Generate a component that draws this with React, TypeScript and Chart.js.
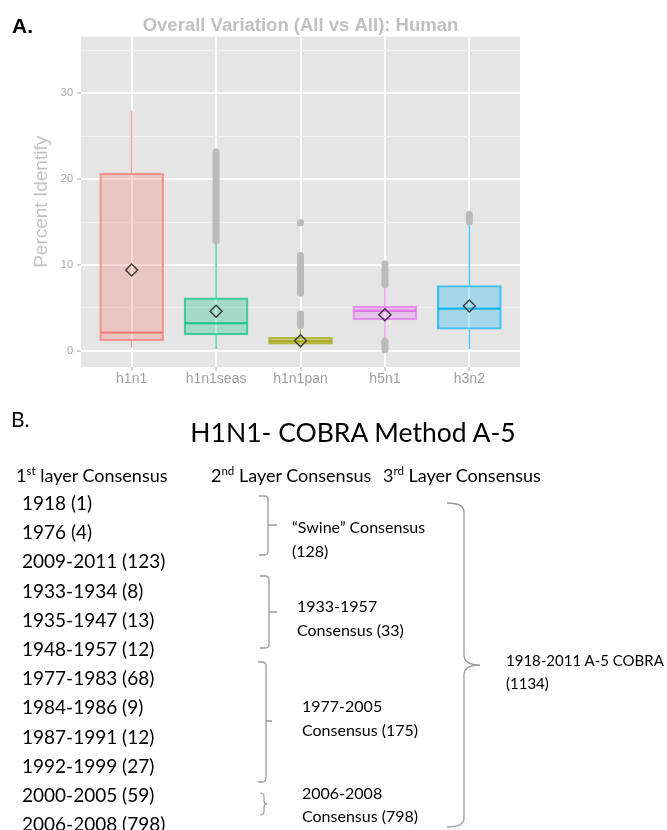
import React, { useEffect, useRef } from "react";
import { Chart, registerables } from "chart.js";

Chart.register(...registerables);

// ---------- Panel A: box plot data (Percent Identify) ----------
const categories = ["h1n1", "h1n1seas", "h1n1pan", "h5n1", "h3n2"];
const whiskerLow = [0.35, 0.2, 0.3, 1.2, 0.2];
const q1 = [1.15, 1.85, 0.75, 3.6, 2.5];
const medians = [2.1, 3.2, 1.1, 4.65, 4.9];
const q3 = [20.7, 6.15, 1.55, 5.2, 7.6];
const whiskerHigh = [28.0, 12.6, 2.6, 7.5, 14.9];
const means = [9.4, 4.6, 1.15, 4.2, 5.2];
// outliers (dense runs read as streaks): category index, lowest value, highest value
const outlierGroup = [1, 2, 2, 2, 3, 3, 3, 4];
const outlierLow = [12.8, 2.9, 6.7, 14.9, 7.7, 10.1, 0.1, 15.0];
const outlierHigh = [23.2, 4.3, 11.1, 14.9, 9.5, 10.1, 1.1, 15.9];
const yMajorTicks = [0, 10, 20, 30];
const hueColors = ["248,118,109", "0,191,125", "163,165,0", "231,107,243", "0,176,246"];

// ---------- Panel B: consensus layers ----------
const firstLayer = [
  "1918 (1)", "1976 (4)", "2009-2011 (123)", "1933-1934 (8)", "1935-1947 (13)", "1948-1957 (12)",
  "1977-1983 (68)", "1984-1986 (9)", "1987-1991 (12)", "1992-1999 (27)", "2000-2005 (59)", "2006-2008 (798)",
];
const secondLayer = [
  ["\u201CSwine\u201D Consensus", "(128)"],
  ["1933-1957", "Consensus (33)"],
  ["1977-2005", "Consensus (175)"],
  ["2006-2008", "Consensus (798)"],
];
const thirdLayer = ["1918-2011 A-5 COBRA", "(1134)"];

const SANS = "'Liberation Sans', Arial, sans-serif";
const LATO = "Lato, 'Open Sans', sans-serif";

const panelBg = {
  id: "panelBg",
  beforeDraw(chart: any) {
    const { ctx, chartArea: a } = chart;
    ctx.save();
    ctx.fillStyle = "#E5E5E5";
    ctx.fillRect(a.left, a.top, a.right - a.left, a.bottom - a.top);
    ctx.restore();
  },
};

const boxParts = {
  id: "boxParts",
  beforeDatasetsDraw(chart: any) {
    const { ctx, scales } = chart;
    const x = scales.x, y = scales.y;
    ctx.save();
    ctx.lineWidth = 1.4;
    categories.forEach((_, i) => {
      const px = x.getPixelForValue(i);
      ctx.strokeStyle = `rgba(${hueColors[i]},0.75)`;
      ctx.beginPath();
      ctx.moveTo(px, y.getPixelForValue(whiskerLow[i]));
      ctx.lineTo(px, y.getPixelForValue(q1[i]));
      ctx.moveTo(px, y.getPixelForValue(q3[i]));
      ctx.lineTo(px, y.getPixelForValue(whiskerHigh[i]));
      ctx.stroke();
    });
    ctx.restore();
  },
  afterDatasetDraw(chart: any, args: any) {
    if (args.index !== 0) return;
    const { ctx } = chart;
    const y = chart.scales.y;
    ctx.save();
    ctx.lineWidth = 2.2;
    args.meta.data.forEach((el: any, i: number) => {
      const { x: cx, width } = el.getProps(["x", "width"], true);
      const py = y.getPixelForValue(medians[i]);
      ctx.strokeStyle = `rgba(${hueColors[i]},0.9)`;
      ctx.beginPath();
      ctx.moveTo(cx - width / 2 + 0.75, py);
      ctx.lineTo(cx + width / 2 - 0.75, py);
      ctx.stroke();
    });
    ctx.restore();
  },
};

function Brace({ x, top, bottom, mid, hook, tip }: any) {
  const r = 4;
  const d = `M ${x - hook} ${top} L ${x - r} ${top} Q ${x} ${top} ${x} ${top + r} L ${x} ${bottom - r} Q ${x} ${bottom} ${x - r} ${bottom} L ${x - hook} ${bottom} M ${x} ${mid} L ${x + tip} ${mid}`;
  return <path d={d} fill="none" stroke="#9A9A9A" strokeWidth={1.3} />;
}

export default function App() {
  const canvasRef = useRef<HTMLCanvasElement>(null);

  useEffect(() => {
    const canvas = canvasRef.current!;
    const outlierSets = outlierGroup.map((g, k) => ({
      type: "line" as const,
      data: [
        { x: g, y: outlierLow[k] },
        { x: g, y: outlierHigh[k] },
      ],
      borderColor: "#BBBBBB",
      borderWidth: 7,
      pointRadius: 3.5,
      pointBorderWidth: 0,
      pointBackgroundColor: "#BBBBBB",
      order: 2,
    }));
    const chart = new Chart(canvas, {
      type: "bar",
      data: {
        datasets: [
          {
            type: "bar",
            data: categories.map((_, i) => ({ x: i, y: [q1[i], q3[i]] })) as any,
            backgroundColor: hueColors.map((c) => `rgba(${c},0.28)`),
            borderColor: hueColors.map((c) => `rgba(${c},0.7)`),
            borderWidth: 1.5,
            borderSkipped: false,
            barThickness: 64,
            grouped: false,
            order: 3,
          } as any,
          ...(outlierSets as any),
          {
            type: "scatter",
            data: categories.map((_, i) => ({ x: i, y: means[i] })),
            pointStyle: "rectRot",
            pointRadius: 6,
            borderColor: "#3A3A3A",
            borderWidth: 1.4,
            backgroundColor: "rgba(0,0,0,0)",
            order: 1,
          } as any,
        ],
      },
      options: {
        responsive: false,
        animation: false,
        events: [],
        layout: { padding: { left: 0, right: 20, top: 0, bottom: 0 } },
        plugins: {
          legend: { display: false },
          tooltip: { enabled: false },
          title: {
            display: true,
            text: "Overall Variation (All vs All): Human",
            color: "#C0C0C0",
            font: { family: SANS, size: 18.5, weight: "bold", lineHeight: 1.2 },
            padding: { top: 14.5, bottom: 0 },
            fullSize: false,
          },
        },
        scales: {
          x: {
            type: "linear",
            min: -0.6,
            max: 4.6,
            offset: false,
            ticks: {
              stepSize: 1,
              includeBounds: false,
              autoSkip: false,
              maxRotation: 0,
              padding: 0,
              color: "#9E9E9E",
              font: { family: SANS, size: 14 },
              callback: (v: any) => categories[v] ?? "",
            },
            grid: {
              offset: false,
              color: "#FFFFFF",
              lineWidth: 2,
              tickLength: 4,
              tickColor: "#A8A8A8",
              tickWidth: 1,
            },
            border: { display: false },
            afterFit: (s: any) => {
              s.height = 28;
            },
          },
          y: {
            type: "linear",
            min: -1.9,
            max: 36.6,
            ticks: {
              stepSize: 5,
              includeBounds: false,
              padding: 4,
              color: "#A6A6A6",
              font: { family: SANS, size: 11 },
              callback: (v: any) => (yMajorTicks.includes(v) ? String(v) : ""),
            },
            grid: {
              color: (c: any) => (yMajorTicks.includes(c.tick?.value) ? "#FFFFFF" : "#F0F0F0"),
              lineWidth: (c: any) => (yMajorTicks.includes(c.tick?.value) ? 2 : 1),
              tickLength: 4,
              tickWidth: 1,
              tickColor: (c: any) => (yMajorTicks.includes(c.tick?.value) ? "#A8A8A8" : "rgba(0,0,0,0)"),
            },
            border: { display: false },
            title: {
              display: true,
              text: "Percent Identify",
              color: "#C2C2C2",
              font: { family: SANS, size: 19, lineHeight: 1.2 },
              padding: { top: 30, bottom: 0 },
            },
            afterFit: (s: any) => {
              s.width = 81;
            },
          },
        },
      } as any,
      plugins: [panelBg, boxParts],
    });
    return () => chart.destroy();
  }, []);

  const rowY = (k: number) => 510 + 29.2 * k;
  const second = [
    { x: 292, y1: 533, y2: 557 },
    { x: 297, y1: 612, y2: 636 },
    { x: 302, y1: 712, y2: 736 },
    { x: 302, y1: 799, y2: 822 },
  ];

  return (
    <div
      style={{
        position: "absolute",
        left: 0,
        top: 0,
        width: 667,
        height: 830,
        overflow: "hidden",
        background: "#FFFFFF",
      }}
    >
      <canvas
        ref={canvasRef}
        width={540}
        height={395}
        style={{ position: "absolute", left: 0, top: 0, width: 540, height: 395, display: "block" }}
      />
      <svg
        width={667}
        height={830}
        style={{ position: "absolute", left: 0, top: 0, pointerEvents: "none" }}
      >
        <text x={12} y={33} fontFamily={SANS} fontWeight="bold" fontSize={21} fill="#000">
          A.
        </text>
        <text x={11} y={427} fontFamily={LATO} fontSize={21} fill="#000">
          B.
        </text>
        <text x={353} y={442} textAnchor="middle" fontFamily={LATO} fontSize={26.5} fill="#000">
          H1N1- COBRA Method A-5
        </text>
        <g fontFamily={LATO} fontSize={18} fill="#000">
          <text x={16} y={482}>
            1<tspan dy={-7} fontSize={11.5}>st</tspan>
            <tspan dy={7}> layer Consensus</tspan>
          </text>
          <text x={211} y={482}>
            2<tspan dy={-7} fontSize={11.5}>nd</tspan>
            <tspan dy={7}> Layer Consensus</tspan>
          </text>
          <text x={383} y={482}>
            3<tspan dy={-7} fontSize={11.5}>rd</tspan>
            <tspan dy={7}> Layer Consensus</tspan>
          </text>
        </g>
        <g fontFamily={LATO} fontSize={19} fill="#000">
          {firstLayer.map((t, k) => (
            <text key={t} x={22} y={rowY(k)}>
              {t}
            </text>
          ))}
        </g>
        <g fontFamily={LATO} fontSize={16} fill="#000">
          {secondLayer.map((pair, k) => (
            <g key={k}>
              <text x={second[k].x} y={second[k].y1}>{pair[0]}</text>
              <text x={second[k].x} y={second[k].y2}>{pair[1]}</text>
            </g>
          ))}
        </g>
        <g fontFamily={LATO} fontSize={15} fill="#000">
          <text x={506} y={666}>{thirdLayer[0]}</text>
          <text x={506} y={689}>{thirdLayer[1]}</text>
        </g>
        <Brace x={268} top={496} bottom={555} mid={525} hook={9} tip={9} />
        <Brace x={269} top={576} bottom={648} mid={612} hook={9} tip={8} />
        <Brace x={266} top={662} bottom={782} mid={721} hook={8} tip={6} />
        <path
          d="M 260 793 Q 264 793 264 797 L 264 801 Q 264 804 267 804 Q 264 804 264 807 L 264 811 Q 264 815 260 815"
          fill="none"
          stroke="#9A9A9A"
          strokeWidth={1.2}
        />
        <path
          d="M 447 503 Q 464 503 464 512 L 464 655 Q 464 665 480 665 Q 464 665 464 675 L 464 818 Q 464 827 447 827"
          fill="none"
          stroke="#9A9A9A"
          strokeWidth={1.3}
        />
      </svg>
    </div>
  );
}
